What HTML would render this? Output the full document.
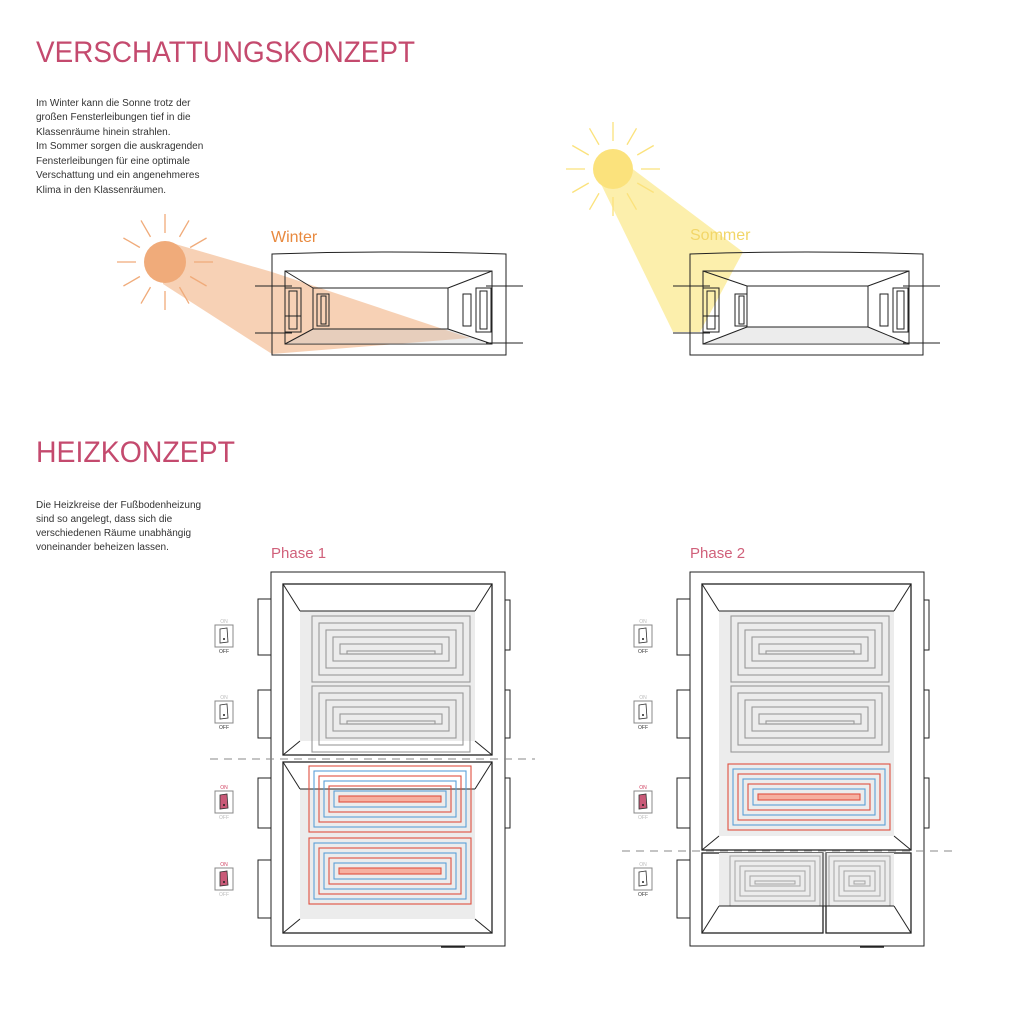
<!DOCTYPE html>
<html><head><meta charset="utf-8"><style>
html,body{margin:0;padding:0;background:#fff;width:1024px;height:1024px;overflow:hidden}
svg{display:block}
.t{font-family:"Liberation Sans",sans-serif}
</style></head><body>
<svg id="s" width="1024" height="1024" viewBox="0 0 1024 1024" xmlns="http://www.w3.org/2000/svg">
<polygon points="165,241 272,272 470,338 272,354 163,284" fill="#f5c6a2" opacity="0.8"/>
<polygon points="600,182 630,167 743,252 700,332 673,332" fill="#fcec9e" opacity="0.85"/>
<g id="dyn"></g>
<g class="t">
<text x="36" y="62" font-size="30" fill="#c44a6e" textLength="379" lengthAdjust="spacingAndGlyphs">VERSCHATTUNGSKONZEPT</text>
<g font-size="10" fill="#333">
<text x="36" y="106">Im Winter kann die Sonne trotz der</text>
<text x="36" y="120">großen Fensterleibungen tief in die</text>
<text x="36" y="135">Klassenräume hinein strahlen.</text>
<text x="36" y="149">Im Sommer sorgen die auskragenden</text>
<text x="36" y="164">Fensterleibungen für eine optimale</text>
<text x="36" y="178">Verschattung und ein angenehmeres</text>
<text x="36" y="193">Klima in den Klassenräumen.</text>
</g>
<text x="271" y="242" font-size="16" fill="#e8893e">Winter</text>
<text x="690" y="240" font-size="16" fill="#f2d668">Sommer</text>
<text x="36" y="462" font-size="30" fill="#c44a6e" textLength="199" lengthAdjust="spacingAndGlyphs">HEIZKONZEPT</text>
<g font-size="10" fill="#333">
<text x="36" y="508">Die Heizkreise der Fußbodenheizung</text>
<text x="36" y="522">sind so angelegt, dass sich die</text>
<text x="36" y="536">verschiedenen Räume unabhängig</text>
<text x="36" y="550">voneinander beheizen lassen.</text>
</g>
<text x="271" y="558" font-size="15" fill="#d0607a">Phase 1</text>
<text x="690" y="558" font-size="15" fill="#d0607a">Phase 2</text>
</g>
</svg>
<script>
const NS="http://www.w3.org/2000/svg",g=document.getElementById('dyn');
function el(t,a){const e=document.createElementNS(NS,t);for(const k in a)e.setAttribute(k,a[k]);g.appendChild(e);return e}
function R(x,y,w,h,s,f,sw){return el('rect',{x,y,width:w,height:h,fill:f||'none',stroke:s||'#222','stroke-width':sw||1})}
function L(x1,y1,x2,y2,s,sw,d){const a={x1,y1,x2,y2,stroke:s||'#222','stroke-width':sw||1};if(d)a['stroke-dasharray']=d;return el('line',a)}
function P(pts,s,f,sw){return el('polygon',{points:pts,fill:f||'none',stroke:s||'#222','stroke-width':sw||1})}
function sun(cx,cy,r,c){el('circle',{cx,cy,r,fill:c});for(let i=0;i<12;i++){const a=i*Math.PI/6;L(cx+Math.cos(a)*(r+8),cy+Math.sin(a)*(r+8),cx+Math.cos(a)*(r+27),cy+Math.sin(a)*(r+27),c,1.3)}}
sun(165,262,21,'#f0ab7a');sun(613,169,20,'#fbe27c');
function sec(ox,oy,w,h,bw){
 const ix=ox+13,iy=oy+17,iw=w-27,ih=h-28;
 el('path',{d:`M${ox} ${oy} Q${ox+w/2} ${oy-4} ${ox+w} ${oy} V${oy+h} H${ox} Z`,fill:'none',stroke:'#222','stroke-width':1});
 R(ix,iy,iw,ih);
 const bx=ox+bw[0],by=oy+bw[1],bx2=ox+bw[2],by2=oy+bw[3];
 P(`${bx},${by2} ${bx2},${by2} ${ix+iw},${iy+ih} ${ix},${iy+ih}`,'none','rgba(200,200,200,0.35)',0);
 L(ix,iy,bx,by);L(ix+iw,iy,bx2,by);L(ix,iy+ih,bx,by2);L(ix+iw,iy+ih,bx2,by2);
 L(bx,by,bx2,by);L(bx,by2,bx2,by2);L(bx,by,bx,by2);L(bx2,by,bx2,by2);
 L(ox-17,oy+32,ox+20,oy+32);L(ox-17,oy+79,ox+20,oy+79);L(ox+w-20,oy+32,ox+w+17,oy+32);L(ox+w-20,oy+89,ox+w+17,oy+89);
 R(ox+13,oy+34,16,44);R(ox+17,oy+37,8,38);L(ox+13,oy+62,ox+29,oy+62);R(ox+45,oy+40,12,32);R(ox+49,oy+42,5,28);
 R(ox+w-30,oy+34,15,44);R(ox+w-26,oy+37,7,38);R(ox+w-43,oy+40,8,32);
}
sec(272,254,234,101,[41,34,176,75]);
sec(690,254,233,101,[57,32,178,73]);
function coil(x0,y0,x1,y1,step,cols){let i=0;while((y1-y0)>step+2){R(x0,y0,x1-x0,y1-y0,cols[i%cols.length],null,1.1);x0+=step;y0+=step;x1-=step;y1-=step;i++}
 R(x0,y0,x1-x0,Math.max(3,y1-y0),cols[i%cols.length],cols.length>1?'#f6b0a0':'none',1.1)}
function switchx(x,y,on){
 el('text',{x:x+9,y:y-2,'font-size':5,'text-anchor':'middle',fill:on?'#d04060':'#bbb','font-family':'Liberation Sans'}).textContent='ON';
 R(x,y,18,22,'#888','#fff',1);
 P(`${x+5},${y+4} ${x+12},${y+3} ${x+13},${y+17} ${x+5},${y+18}`,'#333',on?'#c95a78':'#fff',0.8);
 el('circle',{cx:x+9,cy:y+14,r:1,fill:'#222'});
 el('text',{x:x+9,y:y+28,'font-size':5,'text-anchor':'middle',fill:on?'#bbb':'#333','font-family':'Liberation Sans'}).textContent='OFF';
}
function room(ox,y0,y1,xa,xb,fy0,fy1){
 R(xa,y0,xb-xa,y1-y0,'#222','none',1.3);
 P(`${xa+17},${fy0} ${xb-17},${fy0} ${xb-17},${fy1} ${xa+17},${fy1}`,'none','#ececec',0);
 L(xa,y0,xa+17,fy0);L(xb,y0,xb-17,fy0);L(xa,y1,xa+17,fy1);L(xb,y1,xb-17,fy1);L(xa+17,fy0,xb-17,fy0);
}
function plan(ox,phase){
 R(ox,572,234,374);
 [[599,655],[690,738],[778,828],[860,918]].forEach(a=>R(ox-13,a[0],13,a[1]-a[0]));
 [[600,650],[690,738],[778,828]].forEach(a=>R(ox+234,a[0],5,a[1]-a[0]));
 L(ox+170,947,ox+194,947,'#222',1.5);
 switchx(ox-56,625,false);switchx(ox-56,701,false);
 if(phase==1){
  room(ox,584,755,ox+12,ox+221,611,741);room(ox,762,933,ox+12,ox+221,789,919);
  coil(ox+41,616,ox+199,682,7,['#999']);coil(ox+41,686,ox+199,752,7,['#999']);
  coil(ox+38,766,ox+200,832,5,['#e05040','#5aa0d8']);coil(ox+38,838,ox+200,904,5,['#e05040','#5aa0d8']);
  switchx(ox-56,791,true);switchx(ox-56,868,true);
  L(210,759,535,759,'#888',1,'8,6');
 }else{
  room(ox,584,850,ox+12,ox+221,611,836);
  coil(ox+41,616,ox+199,682,7,['#999']);coil(ox+41,686,ox+199,752,7,['#999']);
  coil(ox+38,764,ox+200,830,5,['#e05040','#5aa0d8']);
  switchx(ox-56,791,true);
  R(ox+12,853,121,80,'#222','none',1.3);R(ox+136,853,85,80,'#222','none',1.3);
  P(`${ox+29},853 ${ox+204},853 ${ox+204},906 ${ox+29},906`,'none','#ececec',0);
  L(ox+133,853,ox+133,933);L(ox+136,853,ox+136,933);
  coil(ox+40,856,ox+130,906,5,['#aaa']);coil(ox+139,856,ox+200,906,5,['#aaa']);
  L(ox+12,933,ox+29,906);L(ox+221,933,ox+204,906);L(ox+29,906,ox+204,906);
  switchx(ox-56,868,false);
  L(622,851,955,851,'#888',1,'8,6');
 }
}
plan(271,1);plan(690,2);
</script>
</body></html>
